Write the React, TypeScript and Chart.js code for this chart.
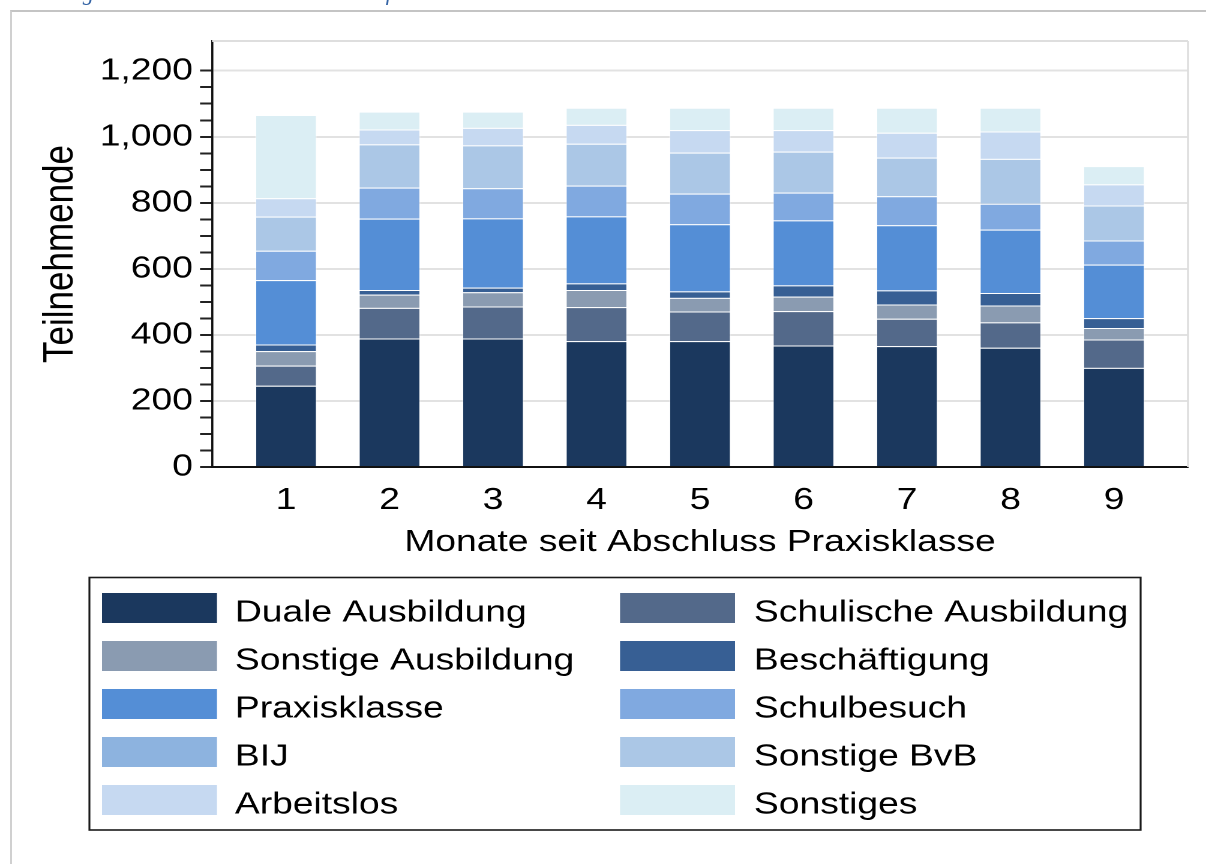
import React, { useEffect, useRef } from 'react';
import { Chart, registerables } from 'chart.js';

Chart.register(...registerables);

// ---------------- data ----------------
const months = [1, 2, 3, 4, 5, 6, 7, 8, 9];

const seriesNames = [
  'Duale Ausbildung',
  'Schulische Ausbildung',
  'Sonstige Ausbildung',
  'Beschäftigung',
  'Praxisklasse',
  'Schulbesuch',
  'BIJ',
  'Sonstige BvB',
  'Arbeitslos',
  'Sonstiges',
];

const dualeAusbildung = [246, 389, 389, 381, 381, 368, 366, 361, 300];
const schulischeAusbildung = [61, 93, 97, 103, 90, 104, 83, 77, 86];
const sonstigeAusbildung = [44, 40, 43, 52, 41, 44, 43, 51, 35];
const beschaeftigung = [20, 14, 14, 20, 20, 34, 43, 38, 30];
const praxisklasse = [195, 216, 210, 203, 203, 197, 197, 192, 162];
const schulbesuch = [89, 94, 91, 93, 93, 84, 88, 78, 73];
const bij = [0, 0, 0, 0, 0, 0, 0, 0, 0];
const sonstigeBvB = [103, 131, 130, 127, 124, 124, 117, 136, 106];
const arbeitslos = [56, 45, 53, 57, 68, 65, 75, 83, 64];
const sonstiges = [252, 54, 49, 52, 68, 68, 76, 72, 55];

const seriesValues = [
  dualeAusbildung,
  schulischeAusbildung,
  sonstigeAusbildung,
  beschaeftigung,
  praxisklasse,
  schulbesuch,
  bij,
  sonstigeBvB,
  arbeitslos,
  sonstiges,
];

const seriesColors = [
  '#1b385e',
  '#53698a',
  '#8a9bb1',
  '#375f94',
  '#548ed6',
  '#80a9e0',
  '#8db3df',
  '#abc7e6',
  '#c6d9f1',
  '#dbeef4',
];

const yTickValues = [
  0, 50, 100, 150, 200, 250, 300, 350, 400, 450, 500, 550, 600,
  650, 700, 750, 800, 850, 900, 950, 1000, 1050, 1100, 1150, 1200,
];
const yLabelStep = 200;
const yMax = 1290;

const yTitle = 'Teilnehmende';
const xTitle = 'Monate seit Abschluss Praxisklasse';
const headerLeft = 'Abbildung 9:';
const headerRight = 'Erwerbsverlauf nach der Teilnahme an der Praxisklasse';

// ---------------- layout (logical canvas units) ----------------
const SCREEN_W = 1206;
const SCREEN_H = 864;
const STRETCH = 1.2;
const LOGICAL_W = Math.round(SCREEN_W / STRETCH);
const FONT = '"Liberation Sans", Arial, Helvetica, sans-serif';

const frameTopRight = {
  id: 'frameTopRight',
  beforeDatasetsDraw(chart: any) {
    const { ctx, chartArea } = chart;
    ctx.save();
    ctx.strokeStyle = '#dedede';
    ctx.lineWidth = 2;
    ctx.beginPath();
    ctx.moveTo(chartArea.left, chartArea.top);
    ctx.lineTo(chartArea.right, chartArea.top);
    ctx.stroke();
    ctx.lineWidth = 1.8;
    ctx.beginPath();
    ctx.moveTo(chartArea.right, chartArea.top);
    ctx.lineTo(chartArea.right, chartArea.bottom);
    ctx.stroke();
    ctx.restore();
  },
};

const boxLegend = {
  id: 'boxLegend',
  afterDraw(chart: any) {
    const ctx = chart.ctx;
    const ds = chart.data.datasets;
    ctx.save();
    ctx.strokeStyle = '#1a1a1a';
    ctx.lineWidth = 1.6;
    ctx.strokeRect(74.5, 577.5, 876, 252.5);
    ctx.font = `31px ${FONT}`;
    ctx.textBaseline = 'alphabetic';
    ctx.textAlign = 'left';
    ds.forEach((d: any, i: number) => {
      const col = i % 2;
      const row = Math.floor(i / 2);
      const cy = 608 + row * 48;
      const sx = col ? 516.7 : 85;
      ctx.fillStyle = d.backgroundColor;
      ctx.fillRect(sx, cy - 15, 95.8, 30);
      ctx.fillStyle = '#000';
      ctx.fillText(d.label, col ? 628.3 : 195.8, cy + 13.7);
    });
    ctx.restore();
  },
};

export default function App() {
  const canvasRef = useRef<HTMLCanvasElement | null>(null);

  useEffect(() => {
    const canvas = canvasRef.current;
    if (!canvas) return;

    const datasets = seriesNames.map((name, i) => ({
      label: name,
      data: months.map((m, j) => ({ x: m, y: seriesValues[i][j] })),
      backgroundColor: seriesColors[i],
      borderColor: 'rgba(255,255,255,0.3)',
      borderWidth: 1,
      barPercentage: 0.6,
      categoryPercentage: 1,
    }));

    const chart = new Chart(canvas, {
      type: 'bar',
      data: { datasets },
      options: {
        animation: false,
        responsive: false,
        devicePixelRatio: 2,
        layout: { padding: { left: 0, top: 41, right: 15, bottom: 297 } },
        plugins: {
          legend: { display: false },
          tooltip: { enabled: false },
        },
        scales: {
          x: {
            type: 'linear',
            stacked: true,
            offset: false,
            min: 0.285,
            max: 9.715,
            afterBuildTicks: (scale: any) => {
              scale.ticks = months.map((v) => ({ value: v }));
            },
            afterFit: (scale: any) => {
              scale.height = 100;
            },
            grid: { display: false, drawTicks: false, offset: false },
            border: { display: true, color: '#111', width: 2 },
            ticks: {
              autoSkip: false,
              maxRotation: 0,
              padding: 15,
              color: '#000',
              font: { size: 31, family: FONT },
              callback: (v: any) => String(v),
            },
            title: {
              display: true,
              text: xTitle,
              color: '#000',
              font: { size: 31, family: FONT },
              padding: { top: 0, bottom: 6 },
            },
          },
          y: {
            type: 'linear',
            stacked: true,
            min: 0,
            max: yMax,
            afterBuildTicks: (scale: any) => {
              scale.ticks = yTickValues.map((v) => ({ value: v }));
            },
            afterFit: (scale: any) => {
              scale.width = 176.7;
            },
            grid: {
              drawTicks: true,
              tickLength: 10,
              lineWidth: 2,
              tickWidth: 2,
              color: (c: any) =>
                c.tick && c.tick.value % yLabelStep === 0 && c.tick.value !== 0
                  ? '#e2e2e2'
                  : 'rgba(0,0,0,0)',
              tickColor: '#222',
            },
            border: { display: true, color: '#111', width: 1.8 },
            ticks: {
              autoSkip: false,
              padding: 6,
              color: '#000',
              font: { size: 31, family: FONT },
              callback: (v: any) =>
                Number(v) % yLabelStep === 0 ? Number(v).toLocaleString('en-US') : '',
            },
            title: {
              display: true,
              text: yTitle,
              color: '#000',
              font: { size: 35, family: FONT },
              padding: { top: 30, bottom: 0 },
            },
          },
        },
      },
      plugins: [frameTopRight, boxLegend],
    } as any);

    return () => chart.destroy();
  }, []);

  return (
    <div>
      <div
        style={{
          position: 'fixed',
          left: 10,
          top: 10,
          width: SCREEN_W,
          height: SCREEN_H + 20,
          borderTop: '2px solid #c4c4c4',
          borderLeft: '2px solid #d0d0d0',
          boxSizing: 'border-box',
        }}
      />
      <div
        style={{
          position: 'fixed',
          left: 2,
          top: -18,
          fontFamily: '"Liberation Serif", serif',
          fontStyle: 'italic',
          fontSize: 22,
          lineHeight: '22px',
          color: '#3564a5',
          whiteSpace: 'nowrap',
        }}
      >
        {headerLeft}
      </div>
      <div
        style={{
          position: 'fixed',
          left: 255,
          top: -18,
          fontFamily: '"Liberation Serif", serif',
          fontStyle: 'italic',
          fontSize: 22,
          lineHeight: '22px',
          color: '#3564a5',
          whiteSpace: 'nowrap',
        }}
      >
        {headerRight}
      </div>
      <canvas
        ref={canvasRef}
        width={LOGICAL_W}
        height={SCREEN_H}
        style={{
          position: 'fixed',
          left: 0,
          top: 0,
          width: SCREEN_W + 'px',
          height: SCREEN_H + 'px',
        }}
      />
    </div>
  );
}
